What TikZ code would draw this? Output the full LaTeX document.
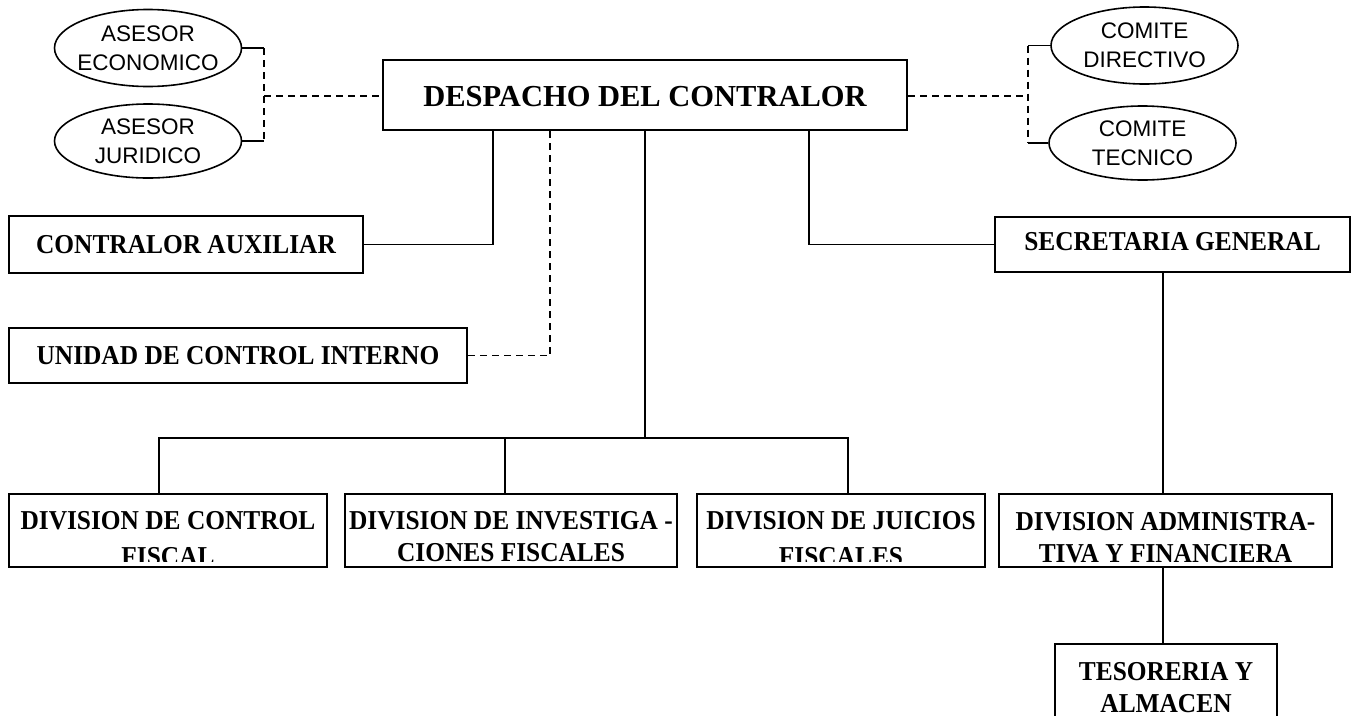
\documentclass[tikz,border=0pt]{standalone}
\usepackage{fontspec}
\setmainfont{Liberation Serif}
\setsansfont{Liberation Sans}
\newfontfamily\boxfont{Liberation Serif}[FakeStretch=0.93]
\usetikzlibrary{shapes.geometric}
\tikzset{
 box/.style={draw, line width=2pt, rectangle, inner sep=0pt, minimum height=55pt, font=\boxfont\bfseries\fontsize{27.3}{32}\selectfont},
 oval/.style={draw, ellipse, line width=1.6pt, inner sep=0pt, minimum width=187pt, minimum height=75pt},
 otext/.style={inner sep=0pt, align=center, font=\sffamily\fontsize{22.5}{29}\selectfont},
 conn/.style={line width=1.8pt},
 dconn/.style={line width=1.8pt, dash pattern=on 7pt off 5pt},
 lbl/.style={inner sep=0pt, align=center, anchor=north, font=\boxfont\bfseries\fontsize{27.3}{32}\selectfont},
 lblc/.style={lbl, font=\boxfont\bfseries\fontsize{27.3}{36}\selectfont},
}
\begin{document}
\begin{tikzpicture}[x=1pt,y=-1pt]
\useasboundingbox (0,0) rectangle (1359,715);
\clip (0,0) rectangle (1359,715);

% boxes
\node[box, minimum width=524pt, minimum height=70pt, font=\bfseries\fontsize{30.5}{36}\selectfont, text height=24pt] (desp) at (645,95) {DESPACHO DEL CONTRALOR};
\node[box, minimum width=354pt, minimum height=57pt] (caux) at (186,244.5) {CONTRALOR AUXILIAR};
\node[box, minimum width=458pt, minimum height=55pt] (uci) at (238,355.5) {UNIDAD DE CONTROL INTERNO};
\node[box, minimum width=355pt, text depth=6pt] (sec) at (1172.5,244.5) {SECRETARIA GENERAL};
\node[box, minimum width=318pt, minimum height=73pt] (dcf) at (168,530.5) {};
\node[box, minimum width=332pt, minimum height=73pt] (dif) at (511,530.5) {};
\node[box, minimum width=288pt, minimum height=73pt] (djf) at (841,530.5) {};
\node[box, minimum width=333pt, minimum height=73pt] (daf) at (1165.5,530.5) {};
\node[box, minimum width=222pt, minimum height=96pt] (tes) at (1166,692) {};

% box labels
\begin{scope}
\clip (dcf.north west) rectangle ([yshift=7pt]dcf.south east);
\node[lblc] (dcfl) at ([yshift=-18pt]dcf.north) {DIVISION DE CONTROL\\FISCAL};
\end{scope}
\node[lbl] (difl) at ([yshift=-18pt]dif.north) {DIVISION DE INVESTIGA -\\CIONES FISCALES};
\begin{scope}
\clip (djf.north west) rectangle ([yshift=7pt]djf.south east);
\node[lblc] (djfl) at ([yshift=-18pt]djf.north) {DIVISION DE JUICIOS\\FISCALES};
\end{scope}
\node[lbl] (dafl) at ([yshift=-19pt]daf.north) {DIVISION ADMINISTRA-\\TIVA Y FINANCIERA};
\node[lbl] (tesl) at ([yshift=-19pt]tes.north) {TESORERIA Y\\ALMACEN};

% ellipses
\node[oval, minimum height=77pt] (ae) at (148,48) {};
\node[otext] (aet) at (ae) {ASESOR\\ECONOMICO};
\node[oval, minimum height=74pt] (aj) at (148,141) {};
\node[otext] (ajt) at (aj) {ASESOR\\JURIDICO};
\node[oval, minimum height=77pt] (cd) at (1144.5,45.5) {};
\node[otext] (cdt) at (cd) {COMITE\\DIRECTIVO};
\node[oval, minimum height=74pt] (ct) at (1142.5,143) {};
\node[otext] (ctt) at (ct) {COMITE\\TECNICO};

% helper coordinates
\coordinate (bl) at (264,96);
\coordinate (br) at (1028,96);
\coordinate (xa) at (493,0);
\coordinate (xu) at (550,0);
\coordinate (xs) at (809,0);
\coordinate (hub) at (645,438);
\coordinate (x1) at (159,0);
\coordinate (x2) at (505,0);
\coordinate (x3) at (848,0);
\coordinate (xr) at (1163,0);

% connectors
\draw[conn] (ae.east) -- (ae.east -| bl);
\draw[conn] (aj.east) -- (aj.east -| bl);
\draw[dconn] (ae.east -| bl) -- (aj.east -| bl);
\draw[dconn] (bl) -- (bl -| desp.west);
\draw[dconn] (desp.east |- br) -- (br);
\draw[dconn] (cd.west -| br) -- (ct.west -| br);
\draw[conn] (cd.west -| br) -- (cd.west);
\draw[conn] (ct.west -| br) -- (ct.west);

\draw[conn] (desp.south -| xa) |- (caux.east);
\draw[dconn] (desp.south -| xu) |- (uci.east);
\draw[conn] (desp.south -| xs) |- (sec.west);
\draw[conn] (desp.south) -- (hub);
\draw[conn] (dcf.north -| x1) |- (hub) -| (djf.north -| x3);
\draw[conn] (dif.north -| x2) -- (hub -| x2);
\draw[conn] (sec.south -| xr) -- (daf.north -| xr);
\draw[conn] (daf.south -| xr) -- (tes.north -| xr);
\end{tikzpicture}
\end{document}
